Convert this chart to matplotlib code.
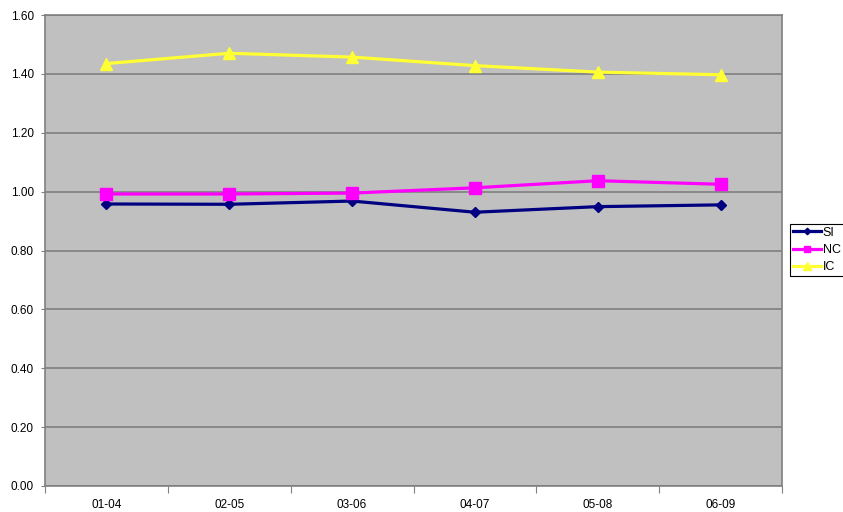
import matplotlib
matplotlib.use("Agg")
import matplotlib.pyplot as plt
import numpy as np

plt.rcParams["font.family"] = ["Liberation Sans", "DejaVu Sans"]
plt.rcParams["font.size"] = 8.5

periods = ["01-04", "02-05", "03-06", "04-07", "05-08", "06-09"]
si = [0.958, 0.957, 0.968, 0.930, 0.949, 0.955]
nc = [0.992, 0.992, 0.995, 1.013, 1.037, 1.025]
ic = [1.435, 1.470, 1.457, 1.428, 1.406, 1.397]

fig = plt.figure(figsize=(8.43, 5.12), dpi=100)
ax = fig.add_axes([45 / 843, 26 / 512, (782 - 45) / 843, (486 - 15) / 512])
ax.set_facecolor("#C0C0C0")

x = np.arange(len(periods))
ax.plot(x, si, color="#000080", lw=2.3, marker="D", ms=5.5, label="SI", zorder=3)
ax.plot(x, nc, color="#FF00FF", lw=2.3, marker="s", ms=8, label="NC", zorder=3)
ax.plot(x, ic, color="#FFFF33", lw=2.3, marker="^", ms=9, label="IC", zorder=3)

ax.set_ylim(0, 1.6)
ax.set_yticks(np.arange(0, 1.61, 0.2))
ax.set_yticklabels([f"{v:.2f}" for v in np.arange(0, 1.61, 0.2)])
ax.yaxis.grid(True, color="#808080", lw=1.2)
ax.set_axisbelow(True)

ax.set_xlim(-0.5, len(periods) - 0.5)
ax.set_xticks(np.arange(-0.5, len(periods)))
ax.set_xticklabels([])
ax.set_xticks(x, minor=True)
ax.set_xticklabels(periods, minor=True)
ax.tick_params(axis="x", which="major", length=5, color="#808080")
ax.tick_params(axis="x", which="minor", length=0, pad=9)
ax.tick_params(axis="y", length=3, color="#808080", pad=5)

for s in ax.spines.values():
    s.set_color("#808080")
    s.set_linewidth(1.2)

leg = ax.legend(loc="center left", bbox_to_anchor=(1.011, 0.501), frameon=True,
                fancybox=False, edgecolor="black", framealpha=1,
                handlelength=2.2, handletextpad=0.15, borderpad=0.25,
                labelspacing=0.42, borderaxespad=0, fontsize=9, markerscale=0.6)
leg.get_frame().set_linewidth(0.8)

fig.savefig("out.png", dpi=100)
